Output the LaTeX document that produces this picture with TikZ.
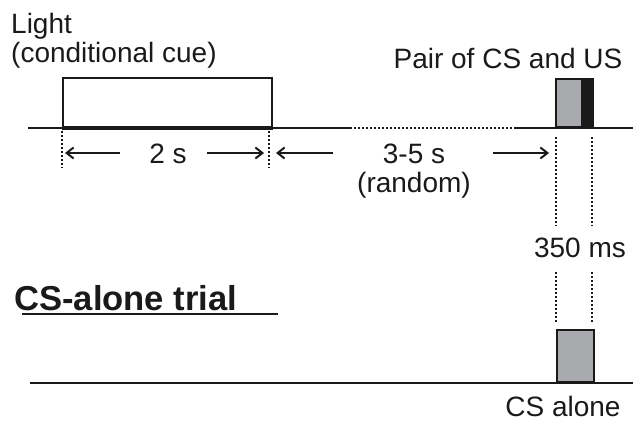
\documentclass[tikz,border=0pt]{standalone}
\usepackage{fontspec}
\setmainfont{Liberation Sans}
\usetikzlibrary{arrows.meta}
\definecolor{csgray}{HTML}{A9AAAE}
\definecolor{usblack}{HTML}{1A1A1A}
\begin{document}
\begin{tikzpicture}[x=1pt,y=-1pt,
  lbl/.style={font=\fontsize{28}{30}\selectfont, anchor=base, inner sep=0pt, text=usblack},
  axis/.style={line width=2.2pt, draw=usblack},
  dots/.style={line width=2pt, draw=usblack, dash pattern=on 2.2pt off 1.8pt},
  arr/.style={line width=2pt, draw=usblack, -{Straight Barb[length=7pt,width=11pt,line width=2pt]}},
  pulse/.style={draw=usblack, line width=2.2pt, inner sep=0pt, anchor=south west}]
\useasboundingbox (0,0) rectangle (633,423);
% texts
\node[lbl, anchor=base west] (light) at (11,33) {Light};
\node[lbl, anchor=base west] (cue) at (11,62) {(conditional cue)};
\node[lbl] (pair) at (508,68) {Pair of CS and US};
\node[lbl] (two) at (168,163) {2 s};
\node[lbl] (tf) at (414,163) {3-5 s};
\node[lbl] (rand) at (414,192) {(random)};
\node[lbl] (ms) at (580,257) {350 ms};
\node[lbl] (alone) at (563,416) {CS alone};
\node[font=\fontsize{34.6}{36}\selectfont\bfseries, anchor=base west, inner sep=0pt, text=usblack] (title) at (14,310) {CS-alone trial};
% upper timeline
\coordinate (l1) at (28,128);
\coordinate (d1) at (350,128);
\coordinate (d2) at (515,128);
\coordinate (r1) at (633,128);
\draw[axis] (l1) -- (d1);
\draw[dots, line width=2.4pt] (d1) -- (d2);
\draw[axis] (d2) -- (r1);
% light pulse
\node[pulse, minimum width=209pt, minimum height=49pt] (lbox) at (62,128) {};
\draw[line width=4.5pt, draw=usblack] (lbox.south west) -- (lbox.south east);
% CS + US pulse
\node[pulse, fill=csgray, minimum width=26pt, minimum height=48pt] (cs) at (555,128) {};
\node[pulse, fill=usblack, minimum width=11pt, minimum height=48pt] (us) at (581,128) {};
% dotted verticals
\coordinate (v1a) at (62,131); \coordinate (v1b) at (62,168);
\coordinate (v2a) at (269,131); \coordinate (v2b) at (269,168);
\draw[dots] (v1a) -- (v1b);
\draw[dots] (v2a) -- (v2b);
\coordinate (v3a) at (556,137); \coordinate (v3b) at (556,226);
\coordinate (v4a) at (592,137); \coordinate (v4b) at (592,226);
\draw[dots] (v3a) -- (v3b);
\draw[dots] (v4a) -- (v4b);
\coordinate (v5a) at (556,272); \coordinate (v5b) at (556,323);
\coordinate (v6a) at (592,272); \coordinate (v6b) at (592,323);
\draw[dots] (v5a) -- (v5b);
\draw[dots] (v6a) -- (v6b);
% arrows
\coordinate (a1s) at (120,153); \coordinate (a1e) at (65,153);
\coordinate (a2s) at (207,153); \coordinate (a2e) at (264,153);
\coordinate (a3s) at (333,153); \coordinate (a3e) at (276,153);
\coordinate (a4s) at (493,153); \coordinate (a4e) at (549,153);
\draw[arr] (a1s) -- (a1e);
\draw[arr] (a2s) -- (a2e);
\draw[arr] (a3s) -- (a3e);
\draw[arr] (a4s) -- (a4e);
% title underline
\coordinate (u1) at (22,314); \coordinate (u2) at (278,314);
\draw[line width=1.4pt, draw=usblack] (u1) -- (u2);
% lower timeline
\coordinate (l2) at (30,383); \coordinate (r2) at (633,383);
\draw[axis] (l2) -- (r2);
\node[pulse, fill=csgray, minimum width=37pt, minimum height=52pt] (csa) at (556,383) {};
\end{tikzpicture}
\end{document}
